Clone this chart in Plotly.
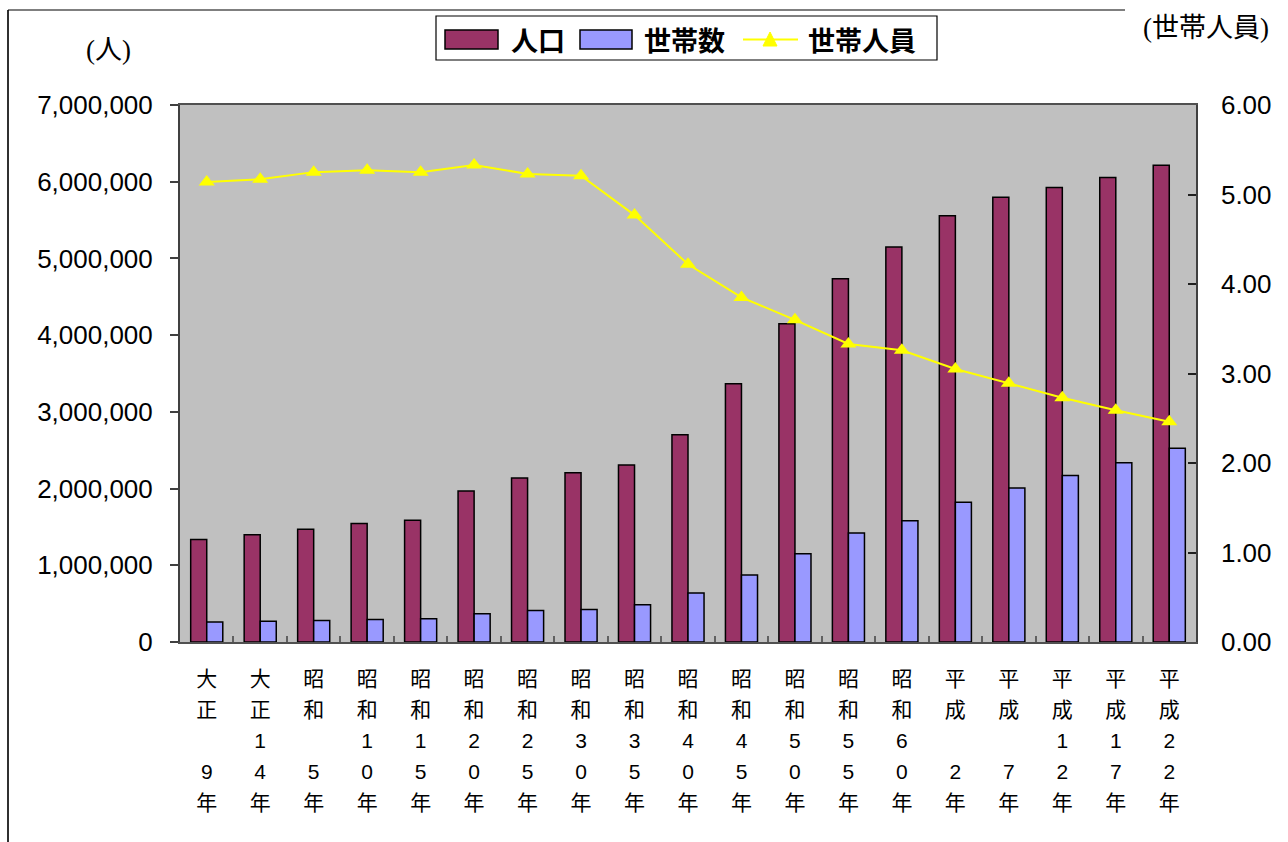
import plotly.graph_objects as go

# ---------------- data ----------------
categories = ["大正9年", "大正14年", "昭和5年", "昭和10年", "昭和15年", "昭和20年",
              "昭和25年", "昭和30年", "昭和35年", "昭和40年", "昭和45年", "昭和50年",
              "昭和55年", "昭和60年", "平成2年", "平成7年", "平成12年", "平成17年", "平成22年"]
population = [1336000, 1399000, 1470000, 1546000, 1588000, 1967000, 2139000, 2205000,
              2306000, 2702000, 3367000, 4149000, 4735000, 5148000, 5555000, 5798000,
              5926000, 6056000, 6216000]
households = [260000, 271000, 280000, 293000, 303000, 369000, 409000, 423000,
              484000, 640000, 874000, 1152000, 1421000, 1579000, 1821000, 2006000,
              2171000, 2338000, 2527000]
persons_per_household = [5.14, 5.17, 5.25, 5.27, 5.25, 5.33, 5.23, 5.21, 4.77, 4.22,
                         3.85, 3.60, 3.33, 3.26, 3.05, 2.89, 2.73, 2.59, 2.46]
left_ticks = [0, 1000000, 2000000, 3000000, 4000000, 5000000, 6000000, 7000000]
right_ticks = [0, 1, 2, 3, 4, 5, 6]

# ---------------- layout helpers ----------------
W, H = 1288, 842
L, R, T, B = 180, 1196, 105, 642


def px(x):
    return (x - L) / (R - L)


def py(y):
    return (B - y) / (B - T)


def vertical(label):
    era = label[:2]
    num = label[2:-1]
    tens = num[0] if len(num) == 2 else "　"
    units = num[-1]
    rows = [era[0], era[1], tens, units, "年"]
    return "<br>".join(f"<span style='font-size:21px'>{c}</span>" for c in rows)


FONT = "Liberation Sans, Arial, Noto Sans CJK JP, sans-serif"
SERIF = "Liberation Serif, Noto Sans CJK JP, serif"
POP_C = "#993366"
HH_C = "#9999FF"

fig = go.Figure()
fig.add_trace(go.Bar(x=categories, y=population, name="人口", marker=dict(color=POP_C, line=dict(color="black", width=1.5)), showlegend=False))
fig.add_trace(go.Bar(x=categories, y=households, name="世帯数", marker=dict(color=HH_C, line=dict(color="black", width=1.5)), showlegend=False))
fig.add_trace(go.Scatter(x=categories, y=persons_per_household, name="世帯人員", yaxis="y2", mode="lines+markers",
                         line=dict(color="#FFFF00", width=2),
                         marker=dict(symbol="triangle-up", size=14, color="#FFFF00"), showlegend=False))

fig.update_layout(
    width=W, height=H,
    margin=dict(l=L, r=W - R, t=T, b=H - B, pad=0),
    paper_bgcolor="white", plot_bgcolor="#C0C0C0",
    barmode="group", bargap=0.40, bargroupgap=0,
    font=dict(family=FONT, size=23, color="black"),
    xaxis=dict(type="category", range=[-0.5, len(categories) - 0.5], tickvals=categories,
               ticktext=[vertical(c) for c in categories],
               tickson="boundaries", ticks="inside", ticklen=6, tickcolor="#606060", tickwidth=1.5,
               showline=True, linecolor="#505050", linewidth=1.5, mirror=True,
               tickfont=dict(size=24, family=FONT), ticklabelstandoff=13, showgrid=False),
    yaxis=dict(range=[0, 7000000], tickvals=left_ticks, tickformat=",d", ticks="outside", ticklen=8,
               tickcolor="#404040", tickwidth=1.5, showline=True, linecolor="#404040", linewidth=2,
               showgrid=False, zeroline=False, ticklabelstandoff=12, tickfont=dict(size=26)),
    yaxis2=dict(range=[0, 6], tickvals=right_ticks, tickformat=".2f", overlaying="y", side="right",
                ticks="inside", ticklen=8, tickcolor="#202020", tickwidth=1.5, showline=True,
                linecolor="#404040", linewidth=1.5, showgrid=False, zeroline=False,
                ticklabelstandoff=18, tickfont=dict(size=26)),
)

shapes = []
# outer frame lines (left and top)
shapes.append(dict(type="line", xref="paper", yref="paper", x0=px(8), x1=px(8), y0=py(10), y1=py(845),
                   line=dict(color="#303030", width=2)))
shapes.append(dict(type="line", xref="paper", yref="paper", x0=px(8), x1=px(1125), y0=py(10), y1=py(10),
                   line=dict(color="black", width=1.2)))
# legend box
shapes.append(dict(type="rect", xref="paper", yref="paper", x0=px(436), x1=px(937), y0=py(60), y1=py(16),
                   line=dict(color="black", width=1.2), fillcolor="white"))
shapes.append(dict(type="rect", xref="paper", yref="paper", x0=px(445), x1=px(498), y0=py(49), y1=py(30),
                   line=dict(color="black", width=1.5), fillcolor=POP_C))
shapes.append(dict(type="rect", xref="paper", yref="paper", x0=px(580), x1=px(632), y0=py(49), y1=py(30),
                   line=dict(color="black", width=1.5), fillcolor=HH_C))
shapes.append(dict(type="line", xref="paper", yref="paper", x0=px(743), x1=px(798), y0=py(39.5), y1=py(39.5),
                   line=dict(color="#FFFF00", width=2)))
tri = f"M {px(770)},{py(32)} L {px(763)},{py(46)} L {px(777)},{py(46)} Z"
shapes.append(dict(type="path", xref="paper", yref="paper", path=tri, fillcolor="#FFFF00",
                   line=dict(color="#FFFF00", width=1)))
fig.update_layout(shapes=shapes)

annotations = [
    dict(text="人口", x=px(509), y=py(39), xanchor="left", yanchor="middle"),
    dict(text="世帯数", x=px(642), y=py(39), xanchor="left", yanchor="middle"),
    dict(text="世帯人員", x=px(806), y=py(39), xanchor="left", yanchor="middle"),
]
for a in annotations:
    a.update(xref="paper", yref="paper", showarrow=False,
             font=dict(family="Noto Sans CJK JP", size=27, color="black", weight="bold"))
annotations += [
    dict(text="(人)", x=px(108), y=py(50), xref="paper", yref="paper", showarrow=False,
         xanchor="center", yanchor="middle", font=dict(family=SERIF, size=27, color="black")),
    dict(text="(世帯人員)", x=px(1206), y=py(28), xref="paper", yref="paper", showarrow=False,
         xanchor="center", yanchor="middle", font=dict(family=SERIF, size=27, color="black")),
]
fig.update_layout(annotations=annotations)

fig.write_html("out.html")
